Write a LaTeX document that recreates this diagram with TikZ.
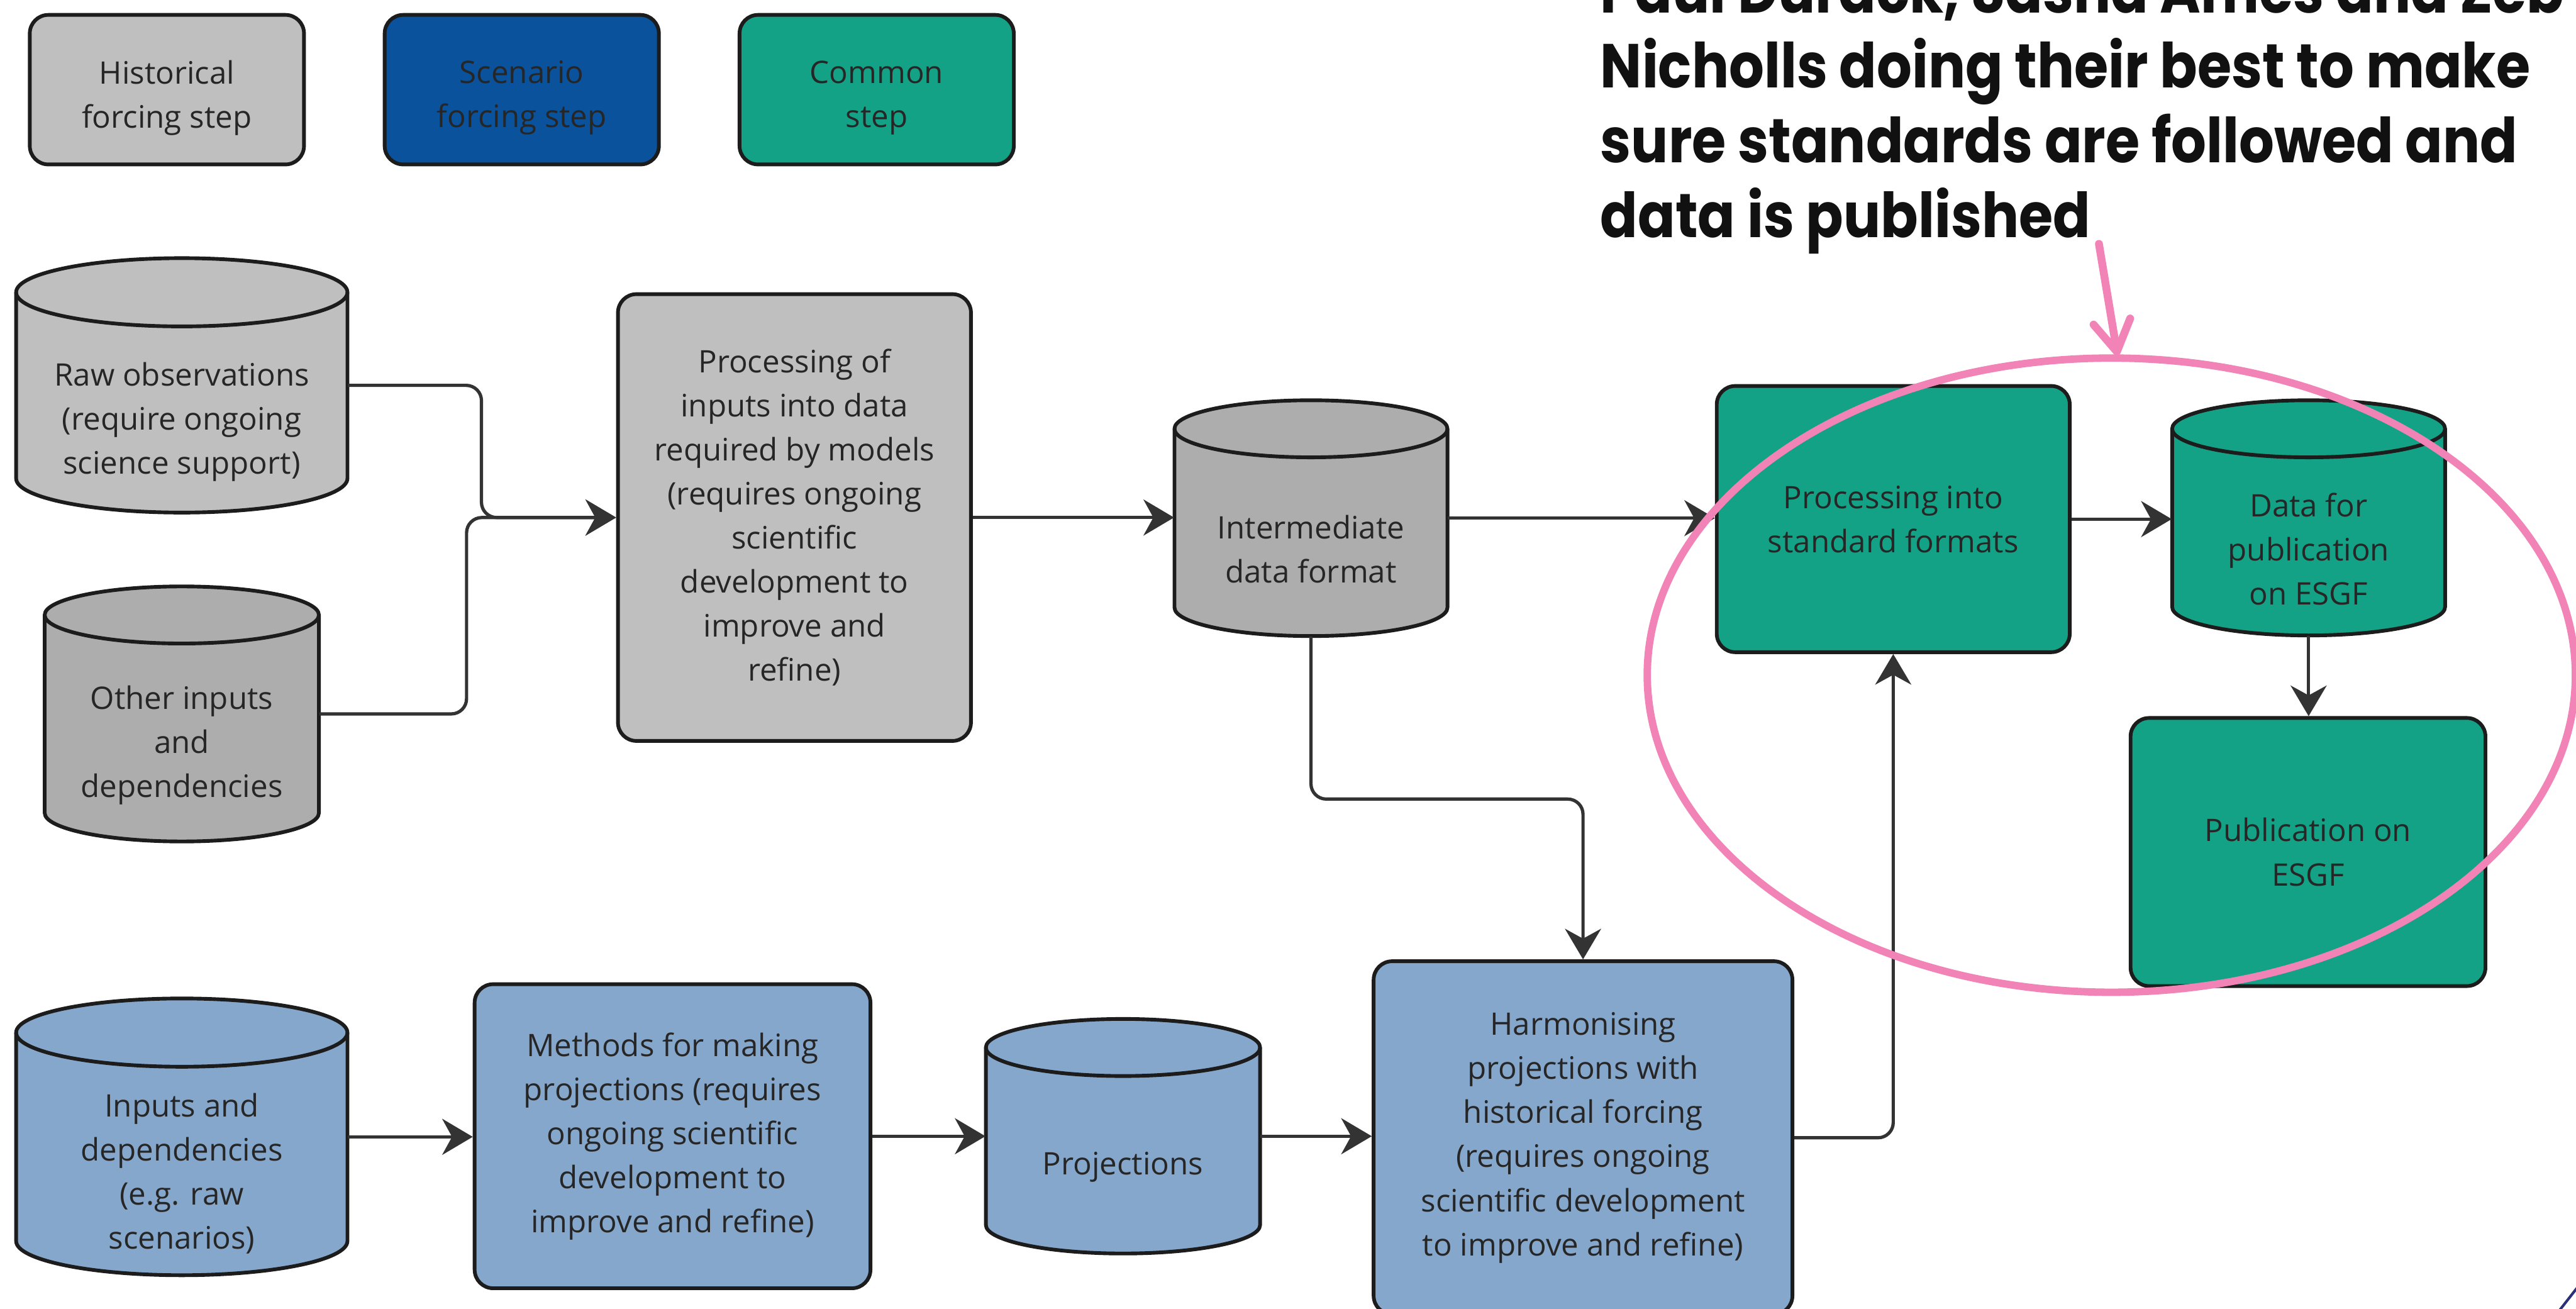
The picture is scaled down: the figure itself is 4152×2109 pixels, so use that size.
\documentclass[tikz,border=0pt]{standalone}
\usepackage{fontspec}
\setmainfont{Open Sans}
\newfontfamily\headfont[FakeStretch=0.89]{Poppins}
\usetikzlibrary{arrows.meta,fit}

\definecolor{histfill}{HTML}{BFBFBF}
\definecolor{histdark}{HTML}{ADADAD}
\definecolor{scenleg}{HTML}{0A529B}
\definecolor{scenfill}{HTML}{86A7CC}
\definecolor{commonfill}{HTML}{14A286}
\definecolor{edgecol}{HTML}{1C1C1C}
\definecolor{linecol}{HTML}{333333}
\definecolor{txtcol}{HTML}{262626}
\definecolor{pinkmark}{HTML}{F283B6}
\definecolor{titlecol}{HTML}{111111}
\definecolor{navycol}{HTML}{2B2F7A}

% rounded process box spanning (x1,y1)-(x2,y2), text centred inside
% (optional argument: extra options for the text)
\newcommand\stepnode[8][]{%
  \node[stepbox, fill=#7, fit={(#3,#4) (#5,#6)}] (#2) {};
  \node[steptext,#1] (#2-t) at ({(#3+#5)/2},{(#4+#6)/2}) {#8};}

% data store drawn as a cylinder: name, centre x, top y, bottom y,
% half width, ellipse radius, fill, text
\newcommand\drum[8]{%
  \node[inner sep=0pt, fit={(#2-#5,#3) (#2+#5,#4)}] (#1) {};
  \draw[drumedge, fill=#7] (#2-#5,#3+#6) -- (#2-#5,#4-#6)
    .. controls (#2-#5,#4-0.4477*#6) and (#2-0.5523*#5,#4) .. (#2,#4)
    .. controls (#2+0.5523*#5,#4) and (#2+#5,#4-0.4477*#6) .. (#2+#5,#4-#6)
    -- (#2+#5,#3+#6)
    .. controls (#2+#5,#3+0.4477*#6) and (#2+0.5523*#5,#3) .. (#2,#3)
    .. controls (#2-0.5523*#5,#3) and (#2-#5,#3+0.4477*#6) .. (#2-#5,#3+#6)
    -- cycle;
  \draw[drumedge] (#2-#5,#3+#6)
    .. controls (#2-#5,#3+1.5523*#6) and (#2-0.5523*#5,#3+2*#6) .. (#2,#3+2*#6)
    .. controls (#2+0.5523*#5,#3+2*#6) and (#2+#5,#3+1.5523*#6) .. (#2+#5,#3+#6);
  \node[steptext] (#1-t) at (#2,{(#3+2*#6+#4)/2+4}) {#8};}

\begin{document}
\begin{tikzpicture}[x=0.01cm, y=-0.01cm,
  bodyfont/.style={font=\fontsize{14.2pt}{20.2pt}\selectfont},
  stepbox/.style={draw=edgecol, line width=1.7pt, rounded corners=8.5pt,
    inner sep=0pt},
  steptext/.style={align=center, text=txtcol, inner sep=0pt, bodyfont},
  drumedge/.style={draw=edgecol, line width=1.7pt, line join=round},
  conn/.style={draw=linecol, line width=1.5pt, rounded corners=7pt,
    -{Stealth[length=14pt, width=16.5pt, inset=4.5pt]}},
  pinkring/.style={draw=pinkmark, line width=3.4pt}]

\fill[white] (0,0) rectangle (4152,2109);
\useasboundingbox (0,0) rectangle (4152,2109);

% legend
\stepnode[yshift=-3.7pt]{lhist}{48}{24}{490}{265}{histfill}{Historical\\forcing step}
\stepnode[yshift=-3.7pt]{lscen}{620}{24}{1062}{265}{scenleg}{Scenario\\forcing step}
\stepnode[yshift=-3.7pt]{lcomm}{1192}{24}{1634}{265}{commonfill}{Common\\step}

% historical forcing chain
\drum{raw}{293}{416}{826}{267}{55}{histfill}{Raw observations\\(require ongoing\\science support)}
\drum{other}{293}{945}{1356}{221}{46}{histdark}{Other inputs\\and\\dependencies}
\stepnode{proc}{996}{474}{1565}{1194}{histfill}{Processing of\\inputs into data\\required by models\\(requires ongoing\\scientific\\development to\\improve and\\refine)}
\drum{inter}{2113}{645}{1025}{220}{46}{histdark}{Intermediate\\data format}

% common steps
\stepnode{pstd}{2767}{622}{3336}{1051}{commonfill}{Processing into\\standard formats}
\drum{dpub}{3721}{645}{1024}{220}{46}{commonfill}{Data for\\publication\\on ESGF}
\stepnode{pub}{3434}{1157}{4006}{1589}{commonfill}{Publication on\\ESGF}

% scenario chain
\drum{inp}{293}{1609}{2055}{267}{55}{scenfill}{Inputs and\\dependencies\\(e.g. raw\\scenarios)}
\stepnode{meth}{765}{1586}{1403}{2076}{scenfill}{Methods for making\\projections (requires\\ongoing scientific\\development to\\improve and refine)}
\drum{projn}{1810}{1642}{2020}{221}{46}{scenfill}{Projections}
\stepnode{harm}{2214}{1549}{2889}{2118}{scenfill}{Harmonising\\projections with\\historical forcing\\(requires ongoing\\scientific development\\to improve and refine)}

% connectors
\coordinate (j1) at (776,0);
\coordinate (j2) at (752,0);
\draw[conn] (raw.east) -- (raw.east -| j1) -- (j1 |- proc.west) -- (proc.west);
\draw[conn] (other.east) -- (other.east -| j2) -- (j2 |- proc.west) -- (proc.west);
\draw[conn] (proc.east) -- (proc.east -| inter.west);
\draw[conn] (inter.east) -- (inter.east -| pstd.west);
\draw[conn] (inter.south) -- ++(0,262) -| (harm.north);
\draw[conn] (pstd.east) -- (pstd.east -| dpub.west);
\draw[conn] (dpub.south) -- (dpub.south |- pub.north);
\draw[conn] (inp.east) -- (inp.east -| meth.west);
\draw[conn] (meth.east) -- (meth.east -| projn.west);
\draw[conn] (projn.east) -- (projn.east -| harm.west);
\draw[conn] (harm.east) -| (pstd.south);

% annotation (its first line runs off the top edge)
\node[anchor=base west, align=left, inner sep=0pt, text=titlecol,
  font=\headfont\bfseries\fontsize{28.45pt}{34.3pt}\selectfont] (note) at (2579,383)
  {Paul Durack, Sasha Ames and Zeb\\Nicholls doing their best to make\\sure standards are followed and\\data is published};
\draw[pinkring] (3403,1088) ellipse [x radius=748, y radius=511];
\coordinate (ringtop) at (3413,573);
\draw[pinkring, line width=3.6pt, line cap=round, -{Straight Barb[length=14pt, width=17pt, round]}]
  (3383,393) -- (ringtop);

\draw[navycol, line width=1.2pt] (4168,2057) -- (4118,2121);
\end{tikzpicture}
\end{document}
